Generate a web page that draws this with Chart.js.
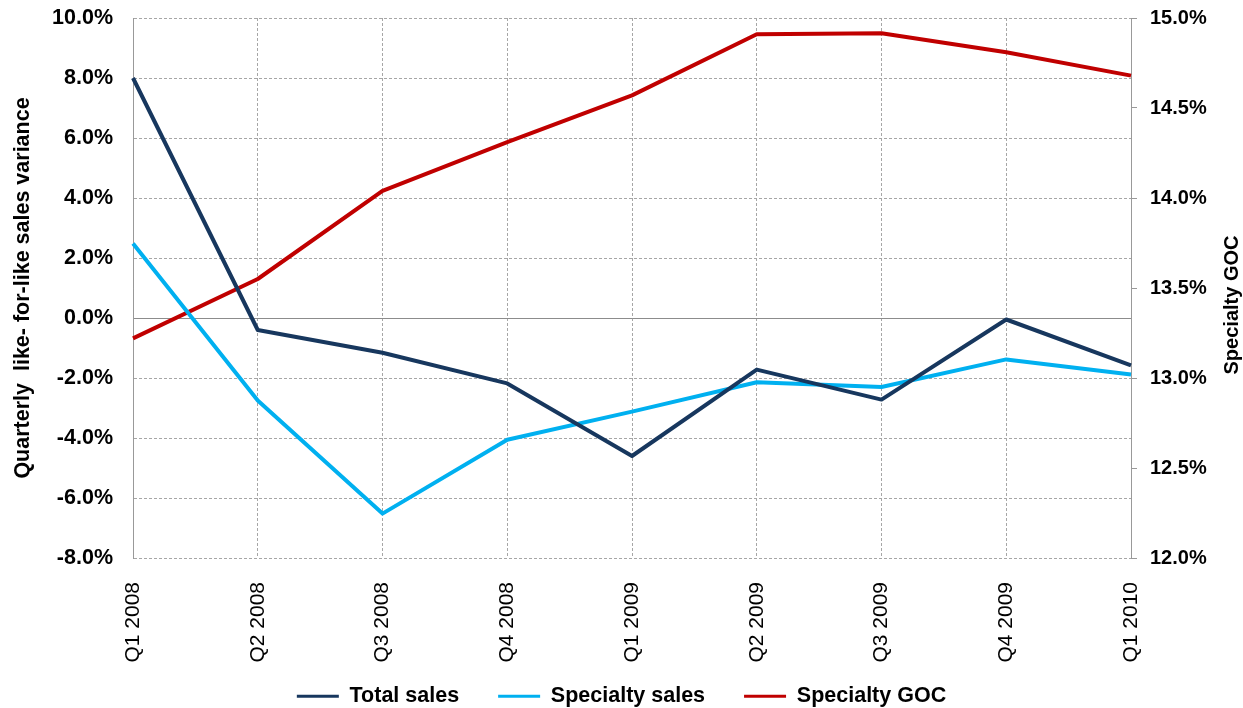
<!DOCTYPE html>
<html>
<head>
<meta charset="utf-8">
<script src="https://cdn.jsdelivr.net/npm/chart.js@4"></script>
<style>
  html, body { margin: 0; padding: 0; background: #ffffff; }
  #wrap { width: 1243px; height: 708px; position: relative; }
</style>
</head>
<body>
<div id="wrap"><canvas id="c" width="1243" height="708"></canvas></div>
<script>
const categories = ['Q1 2008', 'Q2 2008', 'Q3 2008', 'Q4 2008', 'Q1 2009', 'Q2 2009', 'Q3 2009', 'Q4 2009', 'Q1 2010'];
const totalSales = [8.0, -0.4, -1.16, -2.18, -4.6, -1.72, -2.72, -0.05, -1.58];
const specialtySales = [2.48, -2.75, -6.52, -4.06, -3.12, -2.14, -2.3, -1.38, -1.88];
const specialtyGOC = [13.22, 13.55, 14.04, 14.31, 14.57, 14.91, 14.915, 14.81, 14.68];
const leftTicks = { min: -8, max: 10, step: 2 };
const rightTicks = { min: 12, max: 15, step: 0.5 };
const leftTitle = 'Quarterly  like- for-like sales variance';
const rightTitle = 'Specialty GOC';

const FONT = "'Liberation Sans', Arial, sans-serif";
const GRID = '#A6A6A6';
const AXIS = '#999999';

const rightTitlePlugin = {
  id: 'rightTitle',
  afterLayout(chart) {
    // let the rotated category labels extend below the x scale box without clipping
    chart.scales.x.bottom = chart.height;
  },
  afterDraw(chart) {
    const ctx = chart.ctx;
    ctx.save();
    ctx.font = 'bold 20px ' + FONT;
    ctx.fillStyle = '#000000';
    ctx.textAlign = 'center';
    ctx.textBaseline = 'middle';
    ctx.translate(1232, 305);
    ctx.rotate(-Math.PI / 2);
    ctx.fillText(rightTitle, 0, 0);
    ctx.restore();
  }
};

new Chart(document.getElementById('c'), {
  type: 'line',
  data: {
    labels: categories,
    datasets: [
      { label: 'Total sales', data: totalSales, borderColor: '#17375E', backgroundColor: '#17375E', yAxisID: 'y' },
      { label: 'Specialty sales', data: specialtySales, borderColor: '#00B0F0', backgroundColor: '#00B0F0', yAxisID: 'y' },
      { label: 'Specialty GOC', data: specialtyGOC, borderColor: '#C00000', backgroundColor: '#C00000', yAxisID: 'y1' }
    ]
  },
  options: {
    responsive: false,
    animation: false,
    layout: { padding: { top: 18, left: 0, right: 0, bottom: -9 } },
    elements: {
      line: { borderWidth: 4, tension: 0, borderJoinStyle: 'round', fill: false },
      point: { radius: 0, hoverRadius: 0 }
    },
    plugins: {
      tooltip: { enabled: false },
      legend: {
        position: 'bottom',
        labels: {
          font: { family: FONT, size: 21.5, weight: 'bold' },
          color: '#000000',
          boxWidth: 42,
          boxHeight: 3,
          padding: 39,
          generateLabels(chart) {
            const items = Chart.defaults.plugins.legend.labels.generateLabels(chart);
            items.forEach(i => { i.lineWidth = 0; i.fillStyle = i.strokeStyle; });
            return items;
          }
        }
      }
    },
    scales: {
      x: {
        offset: false,
        grid: { color: GRID, lineWidth: 1, drawTicks: false },
        border: { display: false, dash: [3, 2] },
        ticks: {
          autoSkip: false, minRotation: 90, maxRotation: 90, padding: 24,
          color: '#000000', font: { family: FONT, size: 21 }
        },
        afterFit(s) { s.height = 88.5; }
      },
      y: {
        position: 'left',
        min: leftTicks.min, max: leftTicks.max,
        grid: {
          color: ctx => (ctx.tick && ctx.tick.value === 0) ? '#8C8C8C' : GRID,
          lineWidth: 1, drawTicks: false
        },
        border: {
          display: true, color: AXIS, width: 1,
          dash: ctx => (ctx.tick && ctx.tick.value === 0) ? [] : [3, 2]
        },
        ticks: {
          stepSize: leftTicks.step, padding: 20, color: '#000000',
          font: { family: FONT, size: 21.5, weight: 'bold' },
          callback: v => v.toFixed(1) + '%'
        },
        title: {
          display: true, text: leftTitle, color: '#000000',
          font: { family: FONT, size: 21.5, weight: 'bold' },
          padding: { top: 10, bottom: 0 }
        },
        afterFit(s) { s.width = 133; s.paddingTop = 0; s.paddingBottom = 0; }
      },
      y1: {
        position: 'right',
        min: rightTicks.min, max: rightTicks.max,
        grid: {
          drawOnChartArea: false, drawTicks: true, tickLength: 6,
          tickColor: AXIS, tickWidth: 1, color: AXIS
        },
        border: { display: true, color: AXIS, width: 1 },
        ticks: {
          stepSize: rightTicks.step, padding: 13, color: '#000000',
          font: { family: FONT, size: 20, weight: 'bold' },
          callback: v => v.toFixed(1) + '%'
        },
        afterFit(s) { s.width = 112; s.paddingTop = 0; s.paddingBottom = 0; }
      }
    }
  },
  plugins: [rightTitlePlugin]
});
</script>
</body>
</html>
